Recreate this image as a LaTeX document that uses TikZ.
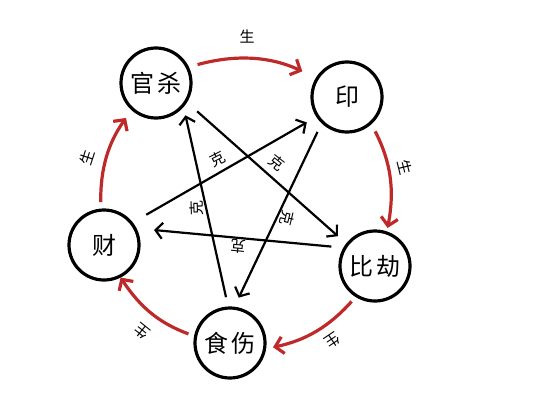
\documentclass[tikz,border=0pt]{standalone}
\usepackage{fontspec}
\setmainfont{Noto Sans CJK SC}
\usepackage{xcolor}
\usetikzlibrary{arrows.meta}
\definecolor{shengred}{RGB}{190,42,42}

\begin{document}
\begin{tikzpicture}[x=1pt,y=1pt,
  elem/.style={draw,circle,line width=3.2pt,minimum size=70pt,inner sep=0pt,
               font=\fontsize{24}{24}\selectfont},
  sheng/.style={-{Straight Barb[length=8pt,width=17pt]},line width=3.2pt,draw=shengred},
  ke/.style={-{Straight Barb[length=7pt,width=16pt]},line width=2.2pt},
  lbl/.style={font=\fontsize{15}{15}\selectfont,inner sep=0pt}
]
\useasboundingbox (0,0) rectangle (548,416);

\node[elem] (guansha) at (156,333) {官\hspace{4pt}杀};
\node[elem] (yin) at (347,319) {印};
\node[elem] (bijie) at (375,150) {比\hspace{4pt}劫};
\node[elem] (shishang) at (230,73) {食\hspace{4pt}伤};
\node[elem] (cai) at (104,171) {财};

\draw[sheng,shorten <=9pt,shorten >=15pt] (guansha.26) to[bend left=20] (yin.148);
\draw[sheng,shorten <=8pt,shorten >=3.5pt] (yin.-48) to[bend left=19] (bijie.71);
\draw[sheng,shorten <=6pt,shorten >=7pt] (bijie.-122) to[bend left=18] (shishang.-9);
\draw[sheng,shorten <=6pt,shorten >=0pt] (shishang.169) to[bend left=18] (cai.-63);
\draw[sheng,shorten <=6.5pt,shorten >=9.5pt] (cai.95) to[bend left=18] (guansha.-132);

\draw[ke,shorten <=13.5pt,shorten >=11pt] (guansha.-32.7) -- (bijie.142.6);
\draw[ke,shorten <=9.5pt,shorten >=8.5pt] (shishang.93.7) -- (guansha.-41.4);
\draw[ke,shorten <=15.5pt,shorten >=11pt] (cai.38) -- (yin.-147);
\draw[ke,shorten <=12pt,shorten >=17.5pt] (bijie.150) -- (cai.27.5);
\draw[ke,shorten <=9.5pt,shorten >=10pt] (yin.-134) -- (shishang.83.8);

\node[lbl] (s1) at (247,379) {生};
\node[lbl,rotate=-76] (s2) at (405,249) {生};
\node[lbl,rotate=-146] (s3) at (333,75) {生};
\node[lbl,rotate=141] (s4) at (142,85) {生};
\node[lbl,rotate=72] (s5) at (87,258) {生};

\node[lbl,rotate=27] (k1) at (218,257) {克};
\node[lbl,rotate=-38.5] (k2) at (277,253) {克};
\node[lbl,rotate=91.6] (k3) at (197,208) {克};
\node[lbl,rotate=-104] (k4) at (287,198) {克};
\node[lbl,rotate=174.5] (k5) at (238,170) {克};
\end{tikzpicture}
\end{document}
